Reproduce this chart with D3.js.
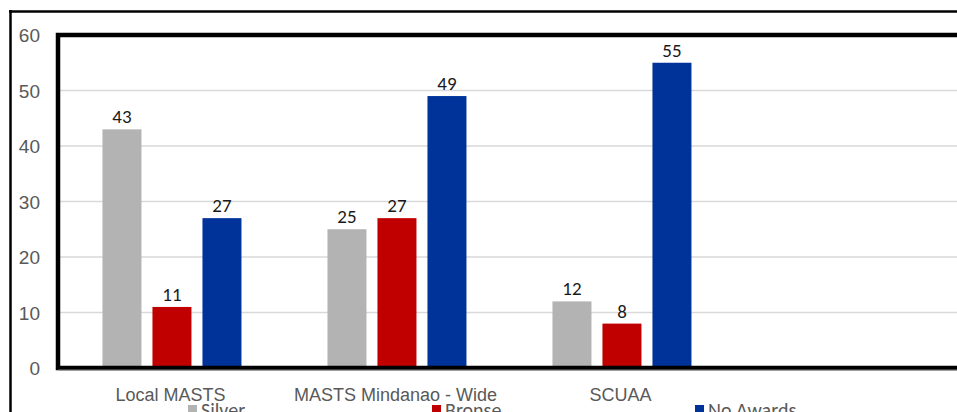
<!DOCTYPE html>
<html>
<head>
<meta charset="utf-8">
<script src="https://cdn.jsdelivr.net/npm/d3@7/dist/d3.min.js"></script>
<style>
  html, body { margin: 0; padding: 0; background: #fff; }
  svg { display: block; font-family: Carlito, Calibri, "Liberation Sans", Arial, sans-serif; }
</style>
</head>
<body>
<svg id="chart" width="957" height="412"></svg>
<script>
// Award counts per competition level
const categories = ["Local MASTS", "MASTS Mindanao - Wide", "SCUAA"];
const seriesNames = ["Silver", "Bronse", "No Awards"];
const silver = [43, 25, 12];
const bronse = [11, 27, 8];
const noAwards = [27, 49, 55];
const yTicks = [0, 10, 20, 30, 40, 50, 60];

const seriesValues = [silver, bronse, noAwards];
const colors = ["#b3b3b3", "#c00000", "#003399"];

const svg = d3.select("#chart");
const W = 957, H = 412;

// plot area (extends past the right edge of the page)
const plot = { left: 58, top: 35, right: 960, bottom: 368 };
const bandWidth = 225;

const y = d3.scaleLinear().domain([0, 60]).range([plot.bottom, plot.top]);
const x0 = d3.scaleBand()
  .domain(categories)
  .range([plot.left, plot.left + bandWidth * categories.length]);
const x1 = d3.scaleBand()
  .domain(seriesNames)
  .range([0, bandWidth])
  .paddingInner(0.22)
  .paddingOuter(0.86)
  .align(0.517);

// outer frame
svg.append("line").attr("x1", 9).attr("x2", W).attr("y1", 11.5).attr("y2", 11.5)
  .attr("stroke", "#000").attr("stroke-width", 2.5);
svg.append("line").attr("x1", 10.5).attr("x2", 10.5).attr("y1", 10).attr("y2", H)
  .attr("stroke", "#000").attr("stroke-width", 2.5);

// gridlines
svg.append("g")
  .selectAll("line")
  .data(yTicks.filter(d => d > 0 && d < 60))
  .join("line")
  .attr("x1", plot.left).attr("x2", W)
  .attr("y1", d => y(d)).attr("y2", d => y(d))
  .attr("stroke", "#d9d9d9").attr("stroke-width", 1.5);

// y axis labels
const yAxis = d3.axisLeft(y).tickValues(yTicks).tickSize(0).tickPadding(0);
const ya = svg.append("g").attr("transform", "translate(40,0)").call(yAxis);
ya.select(".domain").remove();
ya.selectAll("text")
  .attr("fill", "#595959")
  .style("font-size", "19px")
  .attr("dy", "0.35em");

// bars
const groups = svg.append("g")
  .selectAll("g")
  .data(categories)
  .join("g")
  .attr("transform", d => `translate(${x0(d)},0)`);

const cells = groups.selectAll("g.cell")
  .data((c, i) => seriesNames.map((s, j) => ({ s, j, v: seriesValues[j][i] })))
  .join("g").attr("class", "cell");

cells.append("rect")
  .attr("x", d => x1(d.s))
  .attr("width", x1.bandwidth())
  .attr("y", d => y(d.v))
  .attr("height", d => y(0) - y(d.v))
  .attr("fill", d => colors[d.j]);

cells.append("text")
  .attr("x", d => x1(d.s) + x1.bandwidth() / 2)
  .attr("y", d => y(d.v) - 6)
  .attr("text-anchor", "middle")
  .attr("fill", "#1a1a1a")
  .style("font-size", "19px")
  .text(d => d.v);

// plot border and axis line
svg.append("rect")
  .attr("x", plot.left).attr("y", plot.top)
  .attr("width", plot.right - plot.left).attr("height", plot.bottom - plot.top)
  .attr("fill", "none").attr("stroke", "#000").attr("stroke-width", 4.5);
svg.append("line")
  .attr("x1", plot.left).attr("x2", W).attr("y1", plot.bottom + 2).attr("y2", plot.bottom + 2)
  .attr("stroke", "#7f7f7f").attr("stroke-width", 1);

// category labels
const xAxis = d3.axisBottom(x0).tickSize(0).tickPadding(0);
const xa = svg.append("g").attr("transform", `translate(0,${plot.bottom + 33})`).call(xAxis);
xa.select(".domain").remove();
xa.selectAll("text")
  .attr("dy", 0)
  .attr("fill", "#595959")
  .style("font-size", "18px");

// legend
const legendX = [188, 432, 695];
const legend = svg.append("g")
  .selectAll("g")
  .data(seriesNames)
  .join("g")
  .attr("transform", (d, i) => `translate(${legendX[i]},0)`);
legend.append("rect")
  .attr("x", 0).attr("y", 405).attr("width", 9).attr("height", 9)
  .attr("fill", (d, i) => colors[i]);
legend.append("text")
  .attr("x", 13).attr("y", 417)
  .attr("fill", "#595959")
  .style("font-size", "20px")
  .text(d => d);
</script>
</body>
</html>
